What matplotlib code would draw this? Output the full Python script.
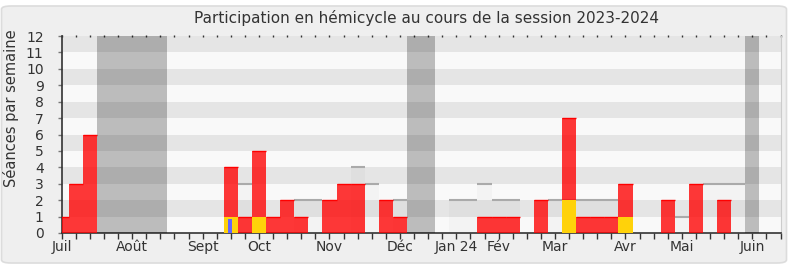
import matplotlib
matplotlib.use("Agg")
import matplotlib.pyplot as plt
import numpy as np
from matplotlib.patches import FancyBboxPatch

# ---- data (weeks from start of session, week 0 = early July 2023) ----
weeks = list(range(51))
presence = [1, 3, 6, 0, 0, 0, 0, 0, 0, 0,
            0, 0, 4, 1, 5, 1, 2, 1, 0, 2,
            3, 3, 0, 2, 1, 0, 0, 0, 0, 0,
            1, 1, 1, 0, 2, 0, 7, 1, 1, 1,
            3, 0, 0, 2, 0, 3, 0, 2, 0, 0,
            0]
interventions = {12: 1, 14: 1, 36: 2, 40: 1}
questions = {12: 0.85}
median = {13: 3, 17: 2, 18: 2, 21: 4, 22: 3, 24: 2, 28: 2, 29: 2, 30: 3,
          31: 2, 32: 2, 35: 2, 36: 2, 37: 2, 38: 2, 39: 2, 44: 1,
          46: 3, 47: 3, 48: 3}
vacations = [(2.5, 7.5), (24.5, 26.5), (48.5, 49.5)]
month_pos = [0, 5, 10, 14, 19, 24, 28, 31, 35, 40, 44, 49]
month_labels = ["Juil", "Août", "Sept", "Oct", "Nov", "Déc", "Jan 24", "Fév",
                "Mar", "Avr", "Mai", "Juin"]
title = "Participation en hémicycle au cours de la session 2023-2024"
ylabel = "Séances par semaine"

plt.rcParams['font.family'] = ['DejaVu Sans']

W, H = 790, 267
fig = plt.figure(figsize=(W / 100, H / 100), dpi=100)
fig.patch.set_facecolor('white')
frame = FancyBboxPatch((1.5 / W, 4 / H), (785 / W), (257 / H),
                       boxstyle="round,pad=0,rounding_size=0.012",
                       transform=fig.transFigure, facecolor='#efefef',
                       edgecolor='#dcdcdc', linewidth=1.2, zorder=-10)
fig.patches.append(frame)

x0, x1 = 61.7, 780.5
ytop, ybot = 36, 233
ax = fig.add_axes([x0 / W, (H - ybot) / H, (x1 - x0) / W, (ybot - ytop) / H])
ax.set_facecolor('#f9f9f9')
ax.set_xlim(0, 51)
ax.set_ylim(0, 12)

# stripes
for i in range(1, 12, 2):
    ax.axhspan(i, i + 1, color='#e5e5e5', zorder=0, lw=0)

# median (gray area)
mk = list(median.keys())
mv = [median[k] for k in mk]
ax.bar(mk, mv, width=1.0, color='black', alpha=0.025, lw=0, zorder=1)
ax.hlines(mv, np.array(mk) - 0.5, np.array(mk) + 0.5, color='#aaaaaa', lw=1.5, zorder=2)

# presence bars
ax.bar(weeks, presence, width=1.0, color=(1, 0, 0), alpha=0.78, lw=0, zorder=3)
pk = [w for w, v in zip(weeks, presence) if v > 0]
pv = [v for v in presence if v > 0]
ax.hlines(pv, np.array(pk) - 0.5, np.array(pk) + 0.5, color='#ff0000', lw=1.0, zorder=4)

# interventions
ik = list(interventions.keys())
ax.bar(ik, [interventions[k] for k in ik], width=1.0, color='#ffd20a', lw=0, zorder=5)

# questions
qk = list(questions.keys())
ax.bar([k - 0.07 for k in qk], [questions[k] for k in qk], width=0.28,
       color='#6464ff', lw=0, zorder=6)

# vacations
for a, b in vacations:
    ax.axvspan(a, b, color='black', alpha=0.245, lw=0, zorder=7)

# axes styling
ax.set_yticks(range(13))
ax.set_yticklabels([str(i) for i in range(13)], fontsize=10, color='#333333')
ax.set_xticks(range(52))
lab = [''] * 52
for p, l in zip(month_pos, month_labels):
    lab[p] = l
ax.set_xticklabels(lab, fontsize=10, color='#333333')
ax.tick_params(axis='y', length=3, width=1, color='#777777', pad=10)
ax.tick_params(axis='x', length=4, width=1, color='#333333', pad=1)
ax.tick_params(axis='x', which='major', top=True, labeltop=False)
for t in ax.xaxis.get_major_ticks():
    t.tick2line.set_markersize(1.5)
    t.tick2line.set_color('black')
    t.tick2line.set_marker('|')
ax.spines['top'].set_visible(False)
ax.spines['right'].set_color('#cccccc')
ax.spines['left'].set_color('#333333')
ax.spines['bottom'].set_color('#333333')
ax.spines['left'].set_linewidth(1.2)
ax.spines['bottom'].set_linewidth(1.2)

fig.text(427 / W, (H - 17.5) / H, title, ha='center', va='center',
         fontsize=11, color='#333333')
fig.text(11.5 / W, (H - 108) / H, ylabel, ha='center', va='center',
         rotation=90, fontsize=10.5, color='#333333')

fig.savefig('out.png', dpi=100, facecolor=fig.get_facecolor())
